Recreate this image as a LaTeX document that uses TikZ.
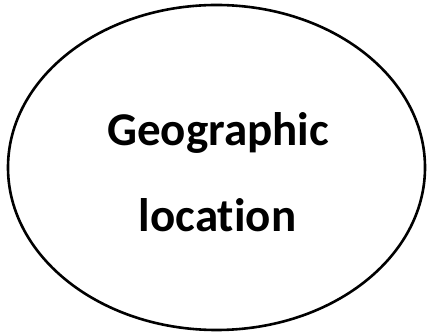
\documentclass[tikz,border=0pt]{standalone}
\usepackage{fontspec}
\setmainfont[Ligatures=NoCommon]{Carlito}
\begin{document}
\begin{tikzpicture}[x=1pt,y=1pt,
  label/.style={font=\bfseries\fontsize{47}{52}\selectfont, anchor=base, inner sep=0pt},
  outline/.style={draw=black, line width=2.6pt}]
\useasboundingbox (0,0) rectangle (427,331);
\draw[outline] (216.5,163.5) ellipse [x radius=208.5, y radius=162.5];
\node[label] (geo) at (218,185) {Geographic};
\node[label] (loc) at (217.5,99) {location};
\end{tikzpicture}
\end{document}
